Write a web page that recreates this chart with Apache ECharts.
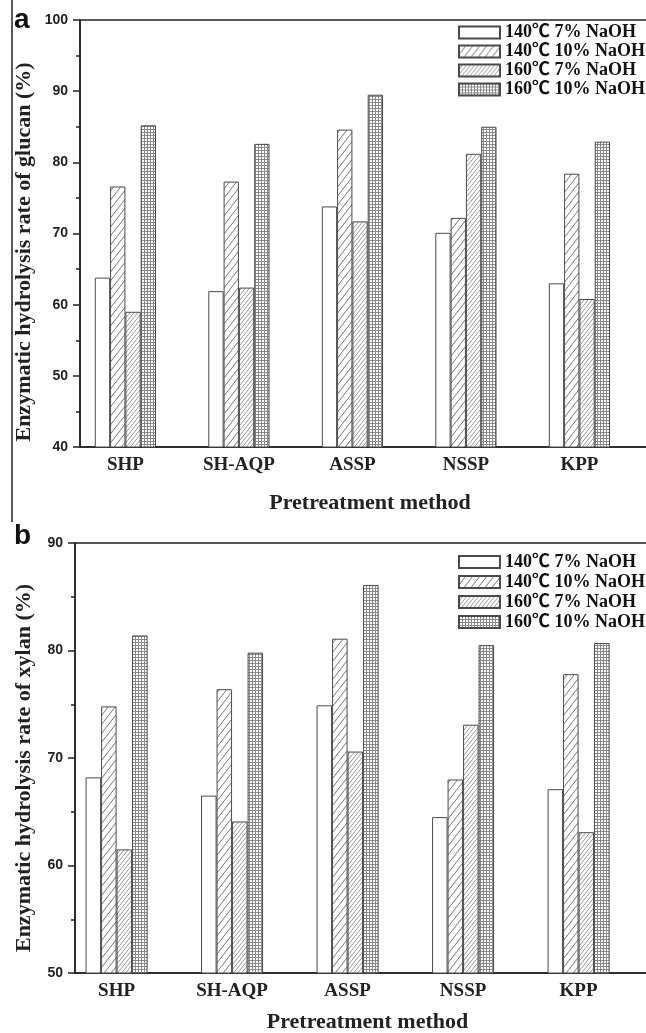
<!DOCTYPE html>
<html>
<head>
<meta charset="utf-8">
<script src="https://cdn.jsdelivr.net/npm/echarts@6/dist/echarts.min.js"></script>
<style>
  html, body { margin: 0; padding: 0; background: #fff; }
  #chart { width: 646px; height: 1033px; }
</style>
</head>
<body>
<div id="chart"></div>
<script>
const categories = ['SHP', 'SH-AQP', 'ASSP', 'NSSP', 'KPP']
const seriesNames = ['140℃ 7% NaOH', '140℃ 10% NaOH', '160℃ 7% NaOH', '160℃ 10% NaOH']

// panel a: glucan
const glucan140_7 = [63.8, 61.9, 73.8, 70.1, 63.0]
const glucan140_10 = [76.6, 77.3, 84.6, 72.2, 78.4]
const glucan160_7 = [59.0, 62.4, 71.7, 81.2, 60.8]
const glucan160_10 = [85.2, 82.6, 89.5, 85.0, 82.9]
const glucanTicks = [40, 100, 10] // min, max, interval

// panel b: xylan
const xylan140_7 = [68.2, 66.5, 74.9, 64.5, 67.1]
const xylan140_10 = [74.8, 76.4, 81.1, 68.0, 77.8]
const xylan160_7 = [61.5, 64.1, 70.6, 73.1, 63.1]
const xylan160_10 = [81.4, 79.8, 86.1, 80.5, 80.7]
const xylanTicks = [50, 90, 10]

const SERIF = "'Liberation Serif', 'Noto Sans CJK SC', serif"
const SANS = "'Liberation Sans', Arial, sans-serif"
const INK = '#222'
const EDGE = '#4a4a4a'

function makeTile(w, h, draw) {
  const c = document.createElement('canvas')
  c.width = w
  c.height = h
  const ctx = c.getContext('2d')
  ctx.fillStyle = '#fff'
  ctx.fillRect(0, 0, w, h)
  draw(ctx, w, h)
  return { image: c, repeat: 'repeat' }
}

// "/" hatch, tile w x h so the slope can be steeper than 45deg
function hatch(w, h, color) {
  return makeTile(w, h, (ctx) => {
    ctx.strokeStyle = color
    ctx.lineWidth = 1
    ctx.beginPath()
    for (let k = -1; k <= 1; k++) {
      ctx.moveTo(k * w, h)
      ctx.lineTo(k * w + w, 0)
    }
    ctx.stroke()
  })
}

const meshTile = makeTile(3, 3, (ctx) => {
  ctx.fillStyle = '#8a8a8a'
  ctx.fillRect(0, 0, 3, 1)
  ctx.fillRect(0, 0, 1, 3)
})

const fills = ['#fff', hatch(7, 9, '#777'), hatch(4, 5, '#9a9a9a'), meshTile]

function barSeries(values, i, axisIdx, width) {
  return {
    name: seriesNames[i],
    type: 'bar',
    xAxisIndex: axisIdx,
    yAxisIndex: axisIdx,
    barWidth: width,
    barGap: '0%',
    data: values.map((v, k) => [k + 1, v]),
    itemStyle: { color: fills[i], borderColor: EDGE, borderWidth: 1 },
    emphasis: { disabled: true },
  }
}

function xAxisFor(idx, min, max, nameGap) {
  return {
    type: 'value',
    gridIndex: idx,
    min: min,
    max: max,
    name: 'Pretreatment method',
    nameLocation: 'middle',
    nameGap: nameGap,
    nameTextStyle: { fontFamily: SERIF, fontWeight: 'bold', fontSize: 22, color: INK },
    axisLine: { show: true, onZero: false, lineStyle: { color: INK, width: 1.5 } },
    axisTick: { show: false },
    splitLine: { show: false },
    axisLabel: {
      customValues: [1, 2, 3, 4, 5],
      formatter: (v) => categories[Math.round(v) - 1] || '',
      margin: 9,
      fontFamily: SERIF,
      fontWeight: 'bold',
      fontSize: 19,
      color: INK,
    },
  }
}

function yAxisFor(idx, ticks) {
  return {
    type: 'value',
    gridIndex: idx,
    min: ticks[0],
    max: ticks[1],
    interval: ticks[2],
    axisLine: { show: true, lineStyle: { color: INK, width: 1.5 } },
    axisTick: { show: true, length: 7, lineStyle: { color: INK, width: 1.5 } },
    minorTick: { show: true, splitNumber: 2, length: 4, lineStyle: { color: INK, width: 1.5 } },
    splitLine: { show: false },
    axisLabel: { margin: 12, fontFamily: SANS, fontWeight: 'bold', fontSize: 14, color: INK },
  }
}

function legendAt(top, lineHeight) {
  return {
    orient: 'vertical',
    left: 458,
    top: top,
    padding: 0,
    itemGap: 0,
    itemWidth: 41,
    itemHeight: 12,
    icon: 'rect',
    selectedMode: false,
    data: seriesNames,
    textStyle: { fontFamily: SERIF, fontWeight: 'bold', fontSize: 18, lineHeight: lineHeight, color: '#111' },
  }
}

function yTitle(text, cy) {
  return {
    type: 'text',
    x: 24,
    y: cy,
    rotation: Math.PI / 2,
    style: { text: text, font: 'bold 22px ' + SERIF, fill: INK, align: 'center', verticalAlign: 'middle' },
  }
}

const chart = echarts.init(document.getElementById('chart'), null, { renderer: 'canvas' })

chart.setOption({
  animation: false,
  backgroundColor: '#fff',
  grid: [
    { left: 80, top: 20, width: 580, height: 427, outerBoundsMode: 'none', containLabel: false,
      show: true, borderColor: INK, borderWidth: 1.5 },
    { left: 75, top: 543, width: 585, height: 430, outerBoundsMode: 'none', containLabel: false,
      show: true, borderColor: INK, borderWidth: 1.5 },
  ],
  legend: [legendAt(23, 19), legendAt(552, 20)],
  xAxis: [
    xAxisFor(0, 0.6, 5.71, 45),
    xAxisFor(1, 0.64, 5.705, 38),
  ],
  yAxis: [
    yAxisFor(0, glucanTicks),
    yAxisFor(1, xylanTicks),
  ],
  graphic: [
    { type: 'line', shape: { x1: 12, y1: 0, x2: 12, y2: 522 }, style: { stroke: INK, lineWidth: 1.5 } },
    { type: 'text', left: 14, top: 6, style: { text: 'a', font: 'bold 28px ' + SANS, fill: '#111' } },
    { type: 'text', left: 14, top: 522, style: { text: 'b', font: 'bold 28px ' + SANS, fill: '#111' } },
    yTitle('Enzymatic hydrolysis rate of glucan (%)', 252),
    yTitle('Enzymatic hydrolysis rate of xylan (%)', 768),
  ],
  series: [
    barSeries(glucan140_7, 0, 0, 15.3),
    barSeries(glucan140_10, 1, 0, 15.3),
    barSeries(glucan160_7, 2, 0, 15.3),
    barSeries(glucan160_10, 3, 0, 15.3),
    barSeries(xylan140_7, 0, 1, 15.5),
    barSeries(xylan140_10, 1, 1, 15.5),
    barSeries(xylan160_7, 2, 1, 15.5),
    barSeries(xylan160_10, 3, 1, 15.5),
  ],
})
</script>
</body>
</html>
